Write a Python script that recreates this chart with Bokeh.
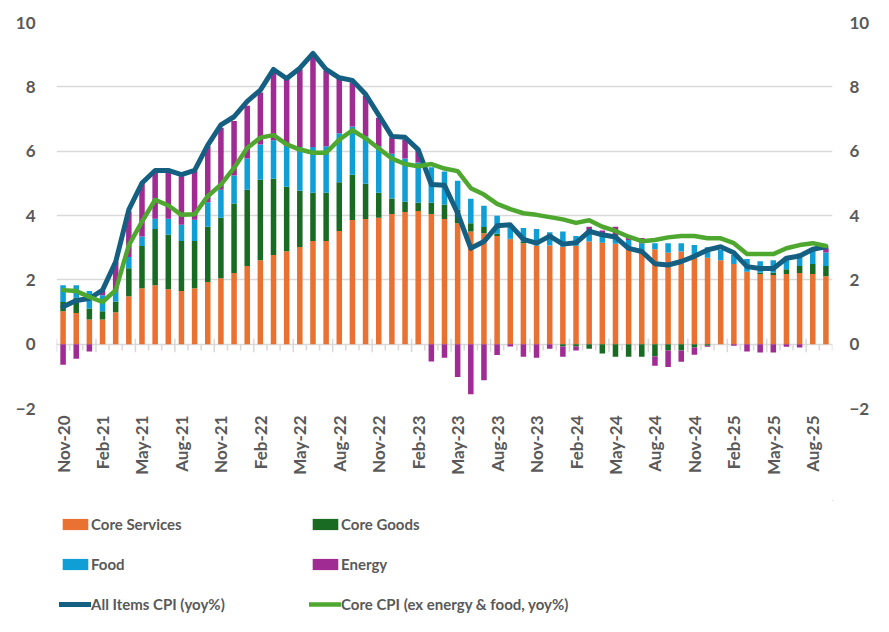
import numpy as np
import pandas as pd
from bokeh.plotting import figure
from bokeh.layouts import column
from bokeh.models import Range1d, LinearAxis, FixedTicker, Legend, LegendItem
from bokeh.embed import file_html
from bokeh.resources import INLINE

months = list(pd.date_range("2020-11-01", periods=59, freq="MS").strftime("%b-%y"))

core_services = [1.02, 0.97, 0.77, 0.77, 0.99, 1.49, 1.74, 1.83, 1.71, 1.65,
                 1.74, 1.93, 2.05, 2.21, 2.43, 2.61, 2.77, 2.89, 3.02, 3.21,
                 3.21, 3.52, 3.86, 3.89, 3.93, 4.05, 4.11, 4.14, 4.05, 3.89,
                 3.76, 3.50, 3.45, 3.36, 3.26, 3.14, 3.07, 3.07, 3.03, 3.06,
                 3.19, 3.15, 3.12, 2.93, 2.86, 2.95, 2.84, 2.88, 2.70, 2.69,
                 2.61, 2.49, 2.25, 2.18, 2.15, 2.18, 2.21, 2.18, 2.11]
core_goods = [0.29, 0.47, 0.34, 0.25, 0.34, 0.87, 1.31, 1.75, 1.69, 1.56,
              1.47, 1.72, 1.88, 2.16, 2.37, 2.50, 2.37, 2.00, 1.75, 1.50,
              1.50, 1.51, 1.41, 1.10, 0.78, 0.48, 0.32, 0.26, 0.35, 0.45,
              0.42, 0.26, 0.19, 0.07, 0.02, 0.05, 0.00, 0.00, -0.07, -0.07,
              -0.14, -0.29, -0.39, -0.39, -0.39, -0.38, -0.20, -0.20, -0.10, -0.05,
              0.00, 0.00, 0.00, 0.04, 0.07, 0.15, 0.22, 0.31, 0.32]
food = [0.52, 0.39, 0.54, 0.50, 0.32, 0.35, 0.30, 0.32, 0.50, 0.50,
        0.66, 0.76, 0.87, 0.87, 0.97, 1.10, 1.20, 1.27, 1.36, 1.42,
        1.44, 1.53, 1.50, 1.47, 1.44, 1.39, 1.34, 1.25, 1.10, 1.03,
        0.90, 0.76, 0.66, 0.56, 0.42, 0.42, 0.51, 0.41, 0.47, 0.30,
        0.31, 0.30, 0.22, 0.31, 0.28, 0.19, 0.30, 0.26, 0.38, 0.32,
        0.32, 0.28, 0.40, 0.36, 0.39, 0.39, 0.39, 0.44, 0.42]
energy = [-0.64, -0.45, -0.23, 0.13, 0.91, 1.42, 1.66, 1.43, 1.43, 1.51,
          1.51, 1.75, 1.93, 1.70, 1.64, 1.61, 2.11, 2.08, 2.42, 2.84,
          2.35, 1.68, 1.37, 1.26, 0.89, 0.50, 0.59, 0.40, -0.54, -0.42,
          -1.02, -1.56, -1.12, -0.34, -0.07, -0.39, -0.42, -0.14, -0.32, -0.13,
          0.15, 0.08, 0.31, 0.12, 0.16, -0.29, -0.51, -0.35, -0.23, -0.03,
          0.00, -0.05, -0.23, -0.26, -0.26, -0.08, -0.10, 0.00, 0.13]
all_items = [1.16, 1.36, 1.42, 1.68, 2.56, 4.18, 5.01, 5.40, 5.40, 5.27,
             5.40, 6.19, 6.82, 7.07, 7.55, 7.90, 8.54, 8.26, 8.58, 9.04,
             8.54, 8.28, 8.20, 7.77, 7.12, 6.46, 6.43, 6.05, 4.96, 4.94,
             4.07, 2.98, 3.19, 3.68, 3.71, 3.26, 3.14, 3.36, 3.11, 3.15,
             3.51, 3.40, 3.33, 2.98, 2.88, 2.50, 2.46, 2.57, 2.73, 2.93,
             3.03, 2.84, 2.41, 2.35, 2.35, 2.67, 2.74, 2.95, 3.03]
core_cpi = [1.68, 1.65, 1.47, 1.31, 1.68, 3.08, 3.81, 4.49, 4.31, 4.02,
            4.04, 4.60, 4.96, 5.48, 6.10, 6.42, 6.50, 6.21, 6.05, 5.95,
            5.95, 6.36, 6.65, 6.40, 6.08, 5.77, 5.60, 5.53, 5.60, 5.46,
            5.38, 4.85, 4.65, 4.36, 4.20, 4.07, 4.02, 3.95, 3.88, 3.77,
            3.85, 3.65, 3.52, 3.34, 3.20, 3.24, 3.32, 3.36, 3.36, 3.29,
            3.29, 3.14, 2.80, 2.80, 2.80, 2.98, 3.08, 3.14, 3.05]
y_ticks = [-2, 0, 2, 4, 6, 8, 10]

FONT = "Lato"
GREY = "#595959"
n = len(months)
x = np.arange(n)

p = figure(width=881, height=500, output_backend="svg", toolbar_location=None,
           x_range=Range1d(-0.5, n - 0.5), y_range=Range1d(-2, 10),
           min_border_left=56, min_border_right=49, min_border_top=22,
           min_border_bottom=92, background_fill_color="white",
           border_fill_color="white")
p.outline_line_color = None
p.xgrid.grid_line_color = None
p.ygrid.ticker = FixedTicker(ticks=y_ticks)
p.ygrid.grid_line_color = "#d9d9d9"
p.ygrid.grid_line_width = 1.5

p.yaxis.ticker = FixedTicker(ticks=y_ticks)
p.extra_y_ranges = {"r": Range1d(-2, 10)}
raxis = LinearAxis(y_range_name="r", ticker=FixedTicker(ticks=y_ticks))
p.add_layout(raxis, "right")
for ax, so in [(p.yaxis[0], 21), (raxis, 17)]:
    ax.axis_line_color = None
    ax.major_tick_line_color = None
    ax.minor_tick_line_color = None
    ax.major_tick_out = 0
    ax.major_tick_in = 0
    ax.major_label_standoff = so
    ax.major_label_text_font = FONT
    ax.major_label_text_font_style = "bold"
    ax.major_label_text_font_size = "17px"
    ax.major_label_text_color = GREY

xa = p.xaxis[0]
xa.ticker = FixedTicker(ticks=list(range(0, n, 3)))
xa.major_label_overrides = {i: months[i] for i in range(0, n, 3)}
xa.major_label_orientation = np.pi / 2
xa.axis_line_color = None
xa.major_tick_line_color = None
xa.minor_tick_line_color = None
xa.major_tick_out = 0
xa.major_tick_in = 0
xa.major_label_standoff = 7
xa.major_label_text_font = FONT
xa.major_label_text_font_style = "bold"
xa.major_label_text_font_size = "17px"
xa.major_label_text_color = GREY

# category tick marks along the zero line
bounds = np.arange(n + 1) - 0.5
major = (np.arange(n + 1) % 3) == 0
p.segment(x0=bounds[major], y0=0.17, x1=bounds[major], y1=-0.25,
          line_color="#d9d9d9", line_width=1.5)
p.segment(x0=bounds[~major], y0=0.0, x1=bounds[~major], y1=-0.2,
          line_color="#d9d9d9", line_width=1.5)

series = [("Core Services", core_services, "#E97132"),
          ("Core Goods", core_goods, "#196B24"),
          ("Food", food, "#0F9ED5"),
          ("Energy", energy, "#A02B93")]
lines = [("All Items CPI (yoy%)", all_items, "#156082", 5),
         ("Core CPI (ex energy & food, yoy%)", core_cpi, "#4EA72E", 4.5)]

pos = np.zeros(n)
neg = np.zeros(n)
for name, vals, color in series:
    v = np.array(vals, dtype=float)
    bottom = np.where(v >= 0, pos, neg)
    top = bottom + v
    pos = np.where(v >= 0, top, pos)
    neg = np.where(v < 0, top, neg)
    p.vbar(x=x, bottom=bottom, top=top, width=0.42, fill_color=color, line_color=None)

for name, vals, color, lw in lines:
    p.line(x, vals, line_color=color, line_width=lw, line_join="round", line_cap="round")

# legend strip under the chart; its proxy glyphs sit outside its visible range
lg = figure(width=881, height=124, output_backend="svg", toolbar_location=None,
            x_axis_location=None, y_axis_location=None,
            x_range=Range1d(0, 1), y_range=Range1d(0, 1),
            min_border_left=0, min_border_right=0, min_border_top=0,
            min_border_bottom=0, background_fill_color="white",
            border_fill_color="white")
lg.outline_line_color = None
lg.grid.visible = False
items = {}
for name, vals, color in series:
    items[name] = lg.vbar(x=[5], top=[5], bottom=[4], width=0.4,
                          fill_color=color, line_color=None)
for name, vals, color, lw in lines:
    items[name] = lg.line(x=[5, 6], y=[5, 5], line_color=color, line_width=lw,
                          line_cap="round")

order = ["Core Services", "Core Goods", "Food", "Energy",
         "All Items CPI (yoy%)", "Core CPI (ex energy & food, yoy%)"]
legend = Legend(items=[LegendItem(label=k, renderers=[items[k]]) for k in order],
                location=(3, 10), orientation="horizontal", ncols=2,
                glyph_width=32, glyph_height=14, label_standoff=0,
                label_width=198, label_height=20, spacing=20,
                padding=0, margin=0, background_fill_alpha=0,
                border_line_color=None, label_text_font=FONT,
                label_text_font_style="bold", label_text_font_size="15px",
                label_text_color=GREY)
lg.add_layout(legend, "center")

layout = column(p, lg, spacing=0)
open("out.html", "w").write(file_html(layout, INLINE))
